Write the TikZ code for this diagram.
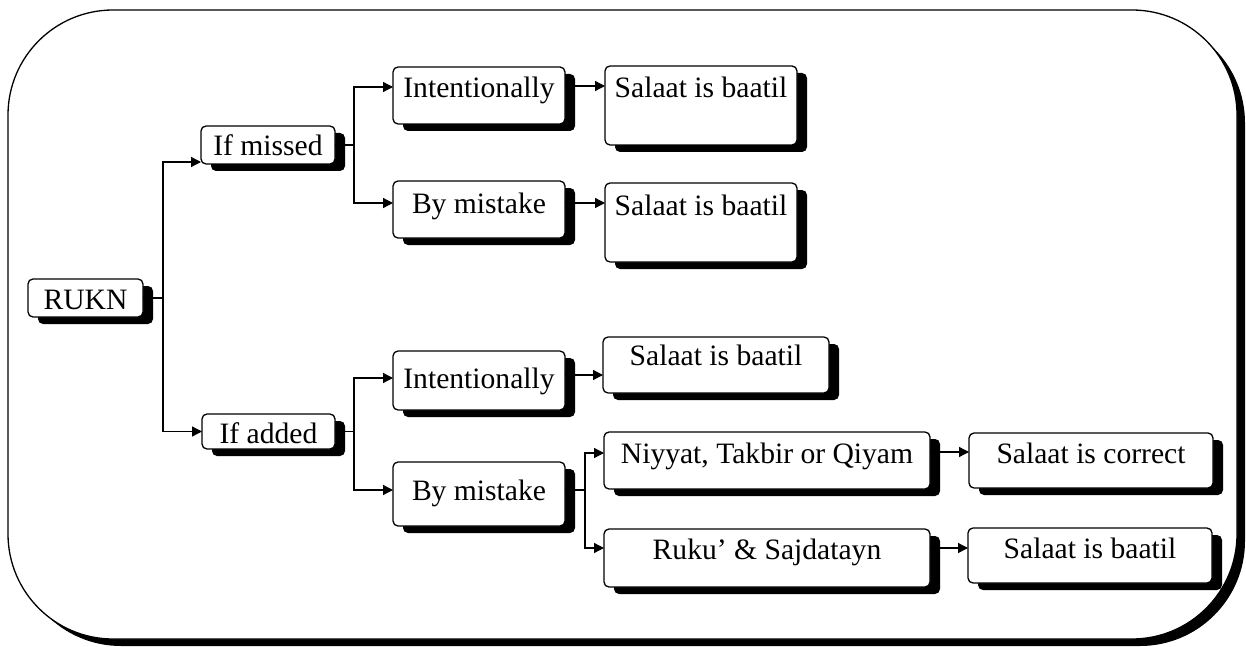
\documentclass[tikz,border=0pt]{standalone}
\usepackage{fontspec}
\setmainfont{Liberation Serif}
\usetikzlibrary{shadows,arrows.meta}
\begin{document}
\begin{tikzpicture}[x=1pt,y=-1pt,
 bx/.style={draw, line width=1.3pt, rounded corners=5pt, fill=white, inner sep=0pt, outer sep=0pt,
   anchor=north west, font=\fontsize{29.6}{34}\selectfont,
   drop shadow={shadow xshift=10pt, shadow yshift=-7pt, fill=black, opacity=1}},
 ln/.style={line width=1.3pt},
 arr/.style={ln, -{Triangle[length=10pt,width=10pt]}}]
\useasboundingbox (0,0) rectangle (1246,647);
% outer frame with shadow
\fill[rounded corners=105pt] (16,18) rectangle (1245,646);
\draw[line width=1.3pt, fill=white, rounded corners=105pt] (8,10) rectangle (1237,639);
% nodes
\node[bx, minimum width=115pt, text height=30pt, text depth=8pt] (rukn) at (28,279) {RUKN};
\node[bx, minimum width=134pt, text height=30pt, text depth=8pt] (missed) at (201,126) {If missed};
\node[bx, minimum width=172pt, text height=31pt, text depth=26pt] (int1) at (393,67) {Intentionally};
\node[bx, minimum width=192pt, text height=32pt, text depth=47pt] (bt1) at (605,66) {Salaat is baatil};
\node[bx, minimum width=172pt, text height=32pt, text depth=25pt] (bm1) at (393,181) {By mistake};
\node[bx, minimum width=192pt, text height=32pt, text depth=47pt] (bt2) at (605,183) {Salaat is baatil};
\node[bx, minimum width=133pt, text height=29pt, text depth=6pt] (added) at (202,414) {If added};
\node[bx, minimum width=172pt, text height=37pt, text depth=22pt] (int2) at (393,351) {Intentionally};
\node[bx, minimum width=226pt, text height=28pt, text depth=28pt] (bt3) at (603,337) {Salaat is baatil};
\node[bx, minimum width=172pt, text height=38pt, text depth=26pt] (bm2) at (393,462) {By mistake};
\node[bx, minimum width=326pt, text height=31pt, text depth=26pt] (niy) at (604,432) {Niyyat, Takbir or Qiyam};
\node[bx, minimum width=326pt, text height=30pt, text depth=28pt] (ruku) at (604,529) {Ruku’ \& Sajdatayn};
\node[bx, minimum width=244pt, text height=30pt, text depth=25pt] (cor) at (969,433) {Salaat is correct};
\node[bx, minimum width=244pt, text height=30pt, text depth=25pt] (bt4) at (968,528) {Salaat is baatil};
% connectors
\coordinate (j0) at (163,298);
\draw[ln] (rukn.east) -- (j0);
\draw[arr] (j0) |- ([yshift=2pt]missed.south west);
\draw[arr] (j0) |- (added.west);
\coordinate (j1) at (354,145);
\draw[ln] (missed.east) -- (j1);
\draw[arr] (j1) |- (int1.west |- 0,87);
\draw[arr] (j1) |- (bm1.west |- 0,203);
\draw[arr] (int1.east |- 0,86) -- (bt1.west |- 0,86);
\draw[arr] (bm1.east |- 0,203) -- (bt2.west |- 0,203);
\coordinate (j2) at (added.east -| 354,0);
\draw[ln] (added.east) -- (j2);
\draw[arr] (j2) |- (int2.west |- 0,378);
\draw[arr] (j2) |- (bm2.west |- 0,490);
\draw[arr] (int2.east |- 0,375) -- (bt3.west |- 0,375);
\coordinate (j3) at (585,490);
\draw[ln] (bm2.east |- 0,490) -- (j3);
\draw[arr] (j3) |- (niy.west |- 0,453);
\draw[arr] (j3) |- (ruku.west |- 0,548);
\draw[arr] (niy.east |- 0,452) -- (cor.west |- 0,452);
\draw[arr] (ruku.east |- 0,548) -- (bt4.west |- 0,548);
\end{tikzpicture}
\end{document}
